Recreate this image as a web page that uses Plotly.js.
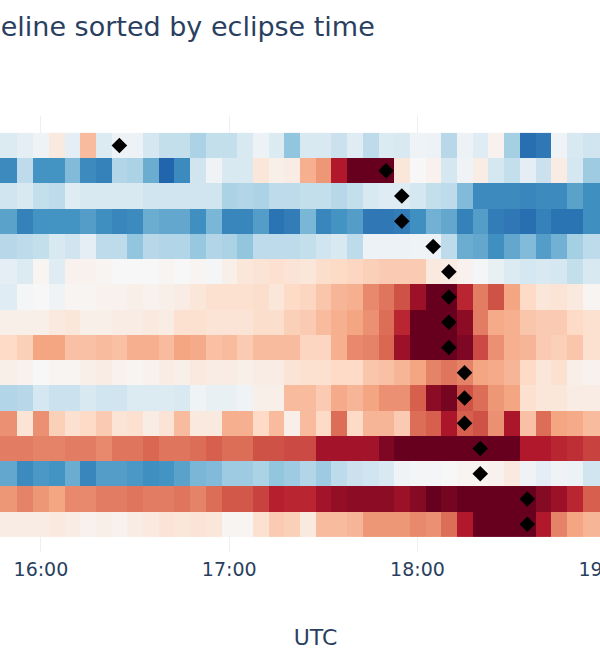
<!DOCTYPE html>
<html>
<head>
<meta charset="utf-8">
<script src="https://cdn.plot.ly/plotly-3.0.1.min.js"></script>
<style>
  html, body { margin:0; padding:0; width:600px; height:660px; overflow:hidden; background:#fff; }
  #wrap { position:relative; width:600px; height:660px; overflow:hidden; }
  #chart { position:absolute; left:-114px; top:0; width:819px; height:660px; }
</style>
</head>
<body>
<div id="wrap"><div id="chart"></div></div>
<script>
// ---- data ----
const day = '2017-08-21';
// 5-minute bins from 15:45 to 19:00 UTC
const binStart = '15:45';
const binCount = 40;
// stations (rows) sorted by eclipse time, top to bottom
const stations = [1,2,3,4,5,6,7,8,9,10,11,12,13,14,15,16];
const eclipseTimes = ['16:25','17:50','17:55','17:55','18:05','18:10','18:10','18:10',
                      '18:10','18:15','18:15','18:15','18:20','18:20','18:35','18:35'];
// anomaly per station and 5-minute bin (columns 15:45 ... 19:00)
const row1  = [-0.7, -0.7,-0.5,-0.2,0.5,-0.5,1.6,-0.7,-0.3,-0.3,-0.9,-1.2,-1.2,-1.6, -1.2,-1.2,-0.8,-0.3,-0.7,-2.0,-0.8,-0.8,-1.1,-0.6,-1.3,-0.7, -0.8, -0.2,-0.3,-1.4,-0.3,-0.6,0.2,-1.7,-3.8,-3.6,-0.2,-0.8,-1.0, -1.0];
const row2  = [-3.2, -3.2,-1.3,-3.0,-3.0,-2.2,-3.2,-3.4,-1.5,-1.6,-2.5,-4.0,-3.2,-1.0, -0.2,-0.8,-0.8,0.6,0.3,0.4,1.8,2.2,4.0,5,5,5, 0.6, 0.0,0.2,-0.9,-0.2,0.4,-0.9,-1.2,-0.5,-1.1,0.4,-0.9,-1.8, -1.8];
const row3  = [-1.0, -1.0,-0.8,-1.2,-1.3,-0.6,-0.8,-0.8,-0.8,-0.8,-1.0,-1.0,-1.0,-1.0, -1.0,-1.6,-1.5,-1.6,-1.3,-1.3,-1.2,-1.2,-1.4,-1.2,-0.8,-0.6, -0.6, -0.9,-1.2,-1.3,-2.2,-3.2,-3.2,-3.2,-3.3,-3.2,-3.2,-2.7,-3.1, -3.1];
const row4  = [-2.7, -2.7,-3.4,-3.0,-3.0,-3.0,-2.8,-3.1,-3.3,-3.2,-2.5,-2.6,-2.6,-3.1, -2.3,-3.3,-3.3,-2.8,-3.7,-3.5,-2.3,-3.3,-3.0,-2.8,-3.6,-3.6, -3.5, -3.1,-2.4,-2.6,-3.4,-2.8,-3.5,-3.6,-3.8,-3.4,-3.7,-3.7,-3.1, -3.1];
const row5  = [-1.4, -1.4,-1.3,-1.2,-0.8,-1.0,-0.5,-1.3,-1.3,-2.0,-1.4,-1.5,-1.5,-1.9, -1.5,-1.6,-2.0,-1.3,-1.3,-1.3,-1.2,-1.0,-0.8,-1.3,-0.3,-0.3, -0.3, -0.2,-0.3,-1.3,-2.5,-2.6,-3.1,-2.6,-2.2,-2.8,-2.4,-1.7,-1.3, -1.3];
const row6  = [-0.5, -0.5,-0.7,0.1,-0.6,0.2,0.2,0.1,0.0,0.0,0.0,0.1,0.0,0.1, -0.1,0.3,0.6,0.7,0.8,0.7,0.6,0.9,1.0,1.1,1.2,1.3, 1.3, 1.3,0.5,0.4,0.2,-0.1,-0.4,-0.7,-0.9,-0.8,-0.9,-1.2,-0.8, -0.8];
const row7  = [-0.6, -0.6,-0.1,0.0,-0.2,0.1,0.1,0.2,0.2,0.3,0.2,0.3,0.4,0.6, 0.8,0.8,0.8,0.9,0.6,1.0,1.1,1.4,1.7,1.8,2.4,2.7, 3.2, 4.3,5,5,3.8,2.6,3.2,2.0,1.0,0.6,0.7,0.5,0.1, 0.1];
const row8  = [0.3, 0.3,0.3,0.3,0.5,0.6,0.3,0.3,0.4,0.4,0.5,0.4,0.8,0.8, 0.7,0.7,0.7,0.9,0.9,1.2,1.3,1.6,1.8,2.0,2.3,2.8, 3.8, 5,5,5,4.5,2.6,1.9,1.8,1.4,1.3,1.3,1.0,0.8, 0.8];
const row9  = [1.0, 1.0,1.2,2.0,2.0,1.5,1.5,1.6,1.5,1.8,1.8,1.6,2.0,1.9, 1.5,1.6,1.3,1.6,1.6,1.6,1.1,1.1,1.8,2.4,2.5,2.9, 4.3, 5,5,5,4.7,3.3,2.3,1.8,1.7,1.3,1.2,1.4,0.8, 0.8];
const row10 = [0.3, 0.3,0.2,0.0,0.1,0.1,0.3,0.4,0.2,0.1,0.2,0.4,0.3,0.5, 0.4,0.4,0.3,0.4,0.4,0.7,0.8,0.8,1.0,1.0,1.4,1.5, 1.7, 2.0,2.5,2.7,2.5,2.0,1.9,1.7,1.0,0.6,0.8,0.3,0.2, 0.2];
const row11 = [-1.5, -1.5,-1.4,-0.9,-1.1,-1.1,-0.8,-1.0,-1.0,-0.7,-0.7,-0.7,-0.8,-0.2, -0.4,-0.4,-0.2,0.3,0.3,1.6,1.6,1.3,1.9,1.7,2.0,2.3, 2.3, 3.0,4.5,4.8,3.2,2.8,2.2,2.0,0.8,0.6,0.6,0.4,0.4, 0.4];
const row12 = [2.3, 2.3,0.7,2.3,1.2,0.8,1.0,1.3,0.7,0.8,0.4,0.7,1.6,0.5, 0.5,1.8,1.8,1.0,1.6,0.3,1.6,1.0,2.8,1.0,1.7,1.7, 1.3, 2.8,3.0,4.1,3.0,3.2,2.3,4.1,1.5,2.8,2.0,1.9,1.6, 1.6];
const row13 = [2.6, 2.6,2.6,2.5,2.5,2.6,2.6,2.4,2.7,2.7,2.9,2.7,2.7,2.8, 3.0,2.8,2.8,3.2,3.2,3.3,3.3,4.2,4.2,4.2,4.2,4.7, 5, 5,5,5,5,5,5,5,4.0,4.0,3.8,3.7,3.4, 3.4];
const row14 = [-2.6, -2.6,-3.2,-2.9,-3.0,-2.5,-3.3,-2.8,-2.8,-2.9,-3.1,-3.0,-2.7,-2.3, -2.2,-1.8,-1.8,-1.6,-2.0,-1.8,-1.5,-1.8,-1.3,-1.1,-1.0,-0.8, -0.2, -0.1,-0.1,0.0,0.1,0.1,0.2,0.5,-0.2,-0.5,-0.2,-0.3,-1.0, -1.0];
const row15 = [2.2, 2.2,2.5,2.2,2.0,2.4,2.4,2.6,2.6,2.7,2.6,2.6,2.7,2.5, 2.8,3.1,3.1,3.4,3.9,3.8,3.8,4.2,4.4,4.5,4.5,4.5, 4.3, 4.6,5,4.8,5,5,5,5,5,4.6,4.3,3.8,3.0, 3.0];
const row16 = [0.4, 0.4,0.4,0.4,0.5,0.4,0.2,0.3,0.2,0.4,0.5,0.7,0.6,0.7, 0.6,0.1,0.1,0.8,1.3,1.2,0.5,1.6,1.6,1.7,2.2,2.2, 2.2, 2.4,2.3,2.8,4.0,5,5,5,5,4.0,2.5,2.0,1.7, 1.7];
const values = [row1,row2,row3,row4,row5,row6,row7,row8,row9,row10,row11,row12,row13,row14,row15,row16];

// ---- build ----
function pad(n){ return (n<10?'0':'')+n; }
const [bh, bm] = binStart.split(':').map(Number);
const times = [];
for (let i=0;i<binCount;i++){
  const t = bh*60 + bm + 5*i;
  times.push(day+' '+pad(Math.floor(t/60))+':'+pad(t%60)+':00');
}
const yIdx = stations.map((s,i)=>i);
const rdbuR = [
  [0.0,'rgb(5,48,97)'],[0.1,'rgb(33,102,172)'],[0.2,'rgb(67,147,195)'],
  [0.3,'rgb(146,197,222)'],[0.4,'rgb(209,229,240)'],[0.5,'rgb(247,247,247)'],
  [0.6,'rgb(253,219,199)'],[0.7,'rgb(244,165,130)'],[0.8,'rgb(214,96,77)'],
  [0.9,'rgb(178,24,43)'],[1.0,'rgb(103,0,31)']
];

const heat = {
  type:'heatmap', x: times, y: yIdx, z: values,
  colorscale: rdbuR, zmin:-5, zmax:5, showscale:false, hoverinfo:'skip'
};
const marks = {
  type:'scatter', mode:'markers',
  x: eclipseTimes.map(t=>day+' '+t+':00'), y: yIdx,
  marker:{symbol:'diamond', size:12, color:'#000'},
  showlegend:false, hoverinfo:'skip'
};

const font = {family:'DejaVu Sans, Verdana, sans-serif', color:'#2a3f5f'};
const layout = {
  width:819, height:660,
  margin:{l:100, r:60, t:116, b:108},
  paper_bgcolor:'#fff', plot_bgcolor:'#fff',
  font: Object.assign({size:14}, font),
  title:{text:'Timeline sorted by eclipse time', xref:'paper', x:0.590, xanchor:'right',
         yref:'container', y:0.960, yanchor:'middle',
         font:Object.assign({size:27}, font)},
  xaxis:{type:'date', range:[day+' 15:42:30', day+' 19:12:30'],
         tickformat:'%H:%M', dtick:3600000, tick0:day+' 16:00:00',
         showgrid:true, gridcolor:'#EBF0F8', zeroline:false, showline:false, ticks:'',
         ticklabelstandoff:4,
         tickfont:Object.assign({size:19}, font),
         title:{text:'UTC', font:Object.assign({size:22}, font), standoff:50}},
  yaxis:{range:[16.1,-1.17], showgrid:false, zeroline:false, showticklabels:false, ticks:''},
  showlegend:false
};
Plotly.newPlot('chart', [heat, marks], layout, {displayModeBar:false, staticPlot:true});
</script>
</body>
</html>
